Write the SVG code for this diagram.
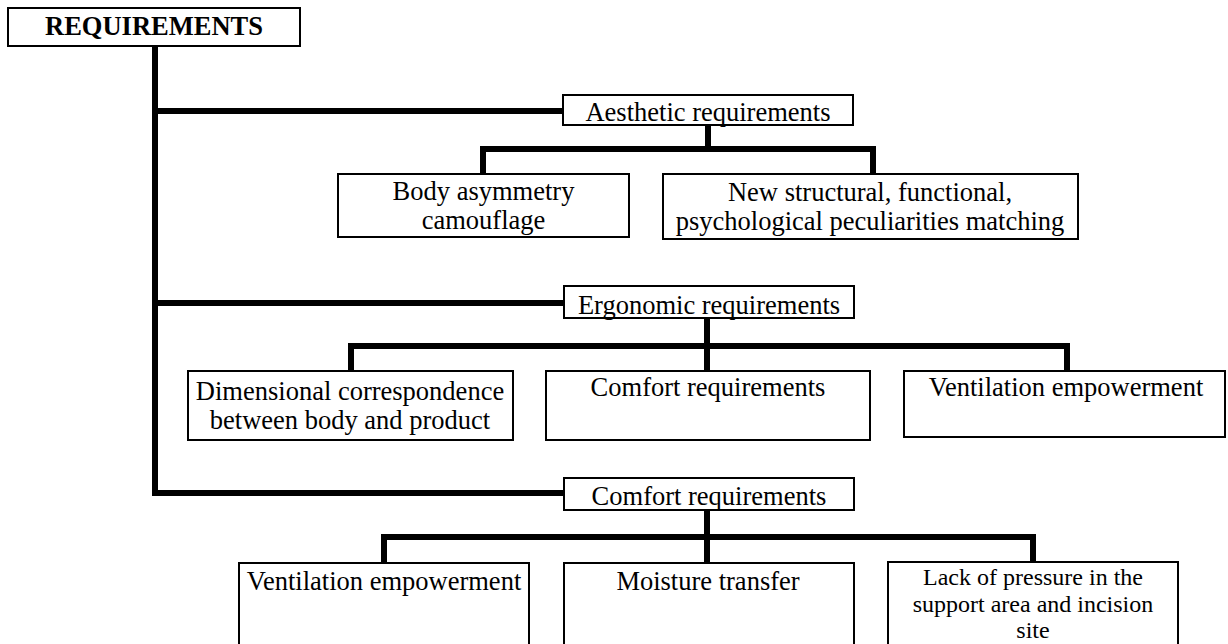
<svg xmlns="http://www.w3.org/2000/svg" width="1228" height="644" viewBox="0 0 1228 644">
<style>
.box{fill:#fff;stroke:#000;stroke-width:2}
.t{font-family:"Liberation Serif","Times New Roman",serif;font-size:26.5px;fill:#000;text-anchor:middle}
.s{font-size:24px}
.b{font-weight:bold}
.c{fill:none;stroke:#000;stroke-width:6;stroke-linejoin:miter;stroke-linecap:butt}
</style>
<rect width="1228" height="644" fill="#fff"/>
<g id="connectors">
<path class="c" d="M155,46 V493 H564"/>
<path class="c" d="M155,111 H563"/>
<path class="c" d="M155,303 H564"/>
<path class="c" d="M708,125 V149"/>
<path class="c" d="M483,174 V149 H873 V174"/>
<path class="c" d="M707,318 V371"/>
<path class="c" d="M351,371 V346 H1067 V371"/>
<path class="c" d="M707,510 V563"/>
<path class="c" d="M384,563 V537 H1033 V562"/>
</g>
<g id="n-root"><rect class="box" x="8" y="8" width="292" height="38"/><text class="t b" x="154" y="35">REQUIREMENTS</text></g>
<g id="n-aesthetic"><rect class="box" x="563" y="95" width="290" height="30"/><text class="t" x="708" y="121">Aesthetic requirements</text></g>
<g id="n-body"><rect class="box" x="338" y="174" width="291" height="63"/><text class="t" x="483.5" y="200">Body asymmetry</text><text class="t" x="483.5" y="229">camouflage</text></g>
<g id="n-new"><rect class="box" x="663" y="174" width="415" height="65"/><text class="t" x="870" y="201">New structural, functional,</text><text class="t" x="870" y="230">psychological peculiarities matching</text></g>
<g id="n-ergonomic"><rect class="box" x="564" y="286" width="290" height="32"/><text class="t" x="709" y="314">Ergonomic requirements</text></g>
<g id="n-dimensional"><rect class="box" x="188" y="371" width="325" height="69"/><text class="t" x="350" y="400">Dimensional correspondence</text><text class="t" x="350" y="429">between body and product</text></g>
<g id="n-comfort1"><rect class="box" x="546" y="371" width="324" height="69"/><text class="t" x="708" y="396">Comfort requirements</text></g>
<g id="n-vent1"><rect class="box" x="904" y="371" width="321" height="66"/><text class="t" x="1066" y="396">Ventilation empowerment</text></g>
<g id="n-comfort"><rect class="box" x="564" y="478" width="290" height="32"/><text class="t" x="709" y="505">Comfort requirements</text></g>
<g id="n-vent2"><rect class="box" x="239" y="563" width="290" height="100"/><text class="t" x="384" y="590">Ventilation empowerment</text></g>
<g id="n-moisture"><rect class="box" x="564" y="563" width="290" height="100"/><text class="t" x="708" y="590">Moisture transfer</text></g>
<g id="n-pressure"><rect class="box" x="888" y="562" width="290" height="100"/><text class="t s" x="1033" y="585">Lack of pressure in the</text><text class="t s" x="1033" y="612">support area and incision</text><text class="t s" x="1033" y="638">site</text></g>
</svg>
